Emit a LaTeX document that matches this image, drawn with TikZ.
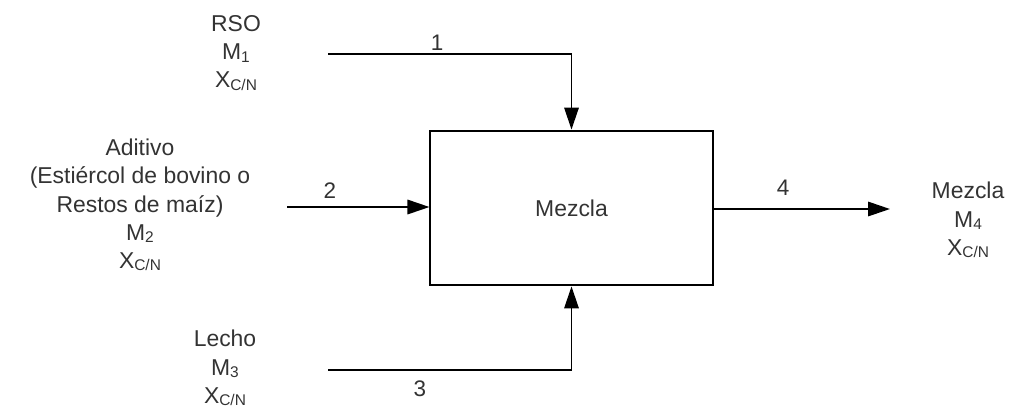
\documentclass[tikz,border=0pt]{standalone}
\usepackage{fontspec}
\setmainfont{Liberation Sans}
\usepackage{tikz}
\usetikzlibrary{positioning,arrows.meta,calc}

\newcommand{\lowtxt}[1]{\raisebox{-0.2ex}{\fontsize{11}{12}\selectfont #1}}
\newcommand{\xcn}{X\lowtxt{C/N}}

\tikzset{
    flow/.style={line width=1.4pt, -{Triangle[length=0.55cm, width=0.36cm]}},
    txt/.style={align=center, text=black!80, font=\fontsize{16.3}{20}\selectfont},
    num/.style={text=black!80, font=\fontsize{16}{18}\selectfont},
}

\begin{document}
\begin{tikzpicture}[x=0.025cm, y=-0.025cm]
    \useasboundingbox (0,0) rectangle (1011,410);
    % mixing unit
    \node[draw, line width=1.4pt, minimum width=7.05cm, minimum height=3.87cm, txt] (mezcla) at (571.5,208) {Mezcla};

    % streams
    \node[txt] (rso)    at (236,53)  {RSO\\M\lowtxt{1}\\\xcn};
    \node[txt] (aditivo) at (140,205) {Aditivo\\(Estiércol de bovino o\\Restos de maíz)\\M\lowtxt{2}\\\xcn};
    \node[txt] (lecho)  at (225,368) {Lecho\\M\lowtxt{3}\\\xcn};
    \node[txt] (salida) at (968,220) {Mezcla\\M\lowtxt{4}\\\xcn};

    \coordinate (s1) at (328,54);
    \coordinate (s2) at (287,207);
    \coordinate (s3) at (328,370);
    \coordinate (e4) at (890,209);

    \draw[flow] (s1) -| (mezcla.north);
    \draw[flow] (s2) -- (s2 -| mezcla.west);
    \draw[flow] (s3) -| (mezcla.south);
    \draw[flow] (mezcla.east |- e4) -- (e4);

    % stream numbers
    \node[num] (n1) at (437,43)  {1};
    \node[num] (n2) at (330,191) {2};
    \node[num] (n3) at (420,389) {3};
    \node[num] (n4) at (783,188) {4};
\end{tikzpicture}
\end{document}
